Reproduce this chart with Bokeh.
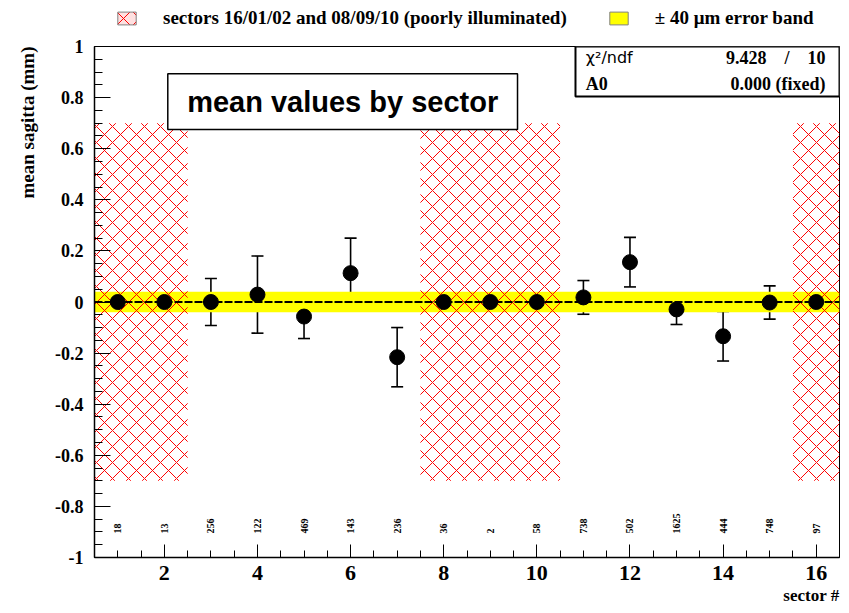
import math
from bokeh.plotting import figure
from bokeh.layouts import column
from bokeh.models import (ColumnDataSource, FixedTicker, Whisker, TeeHead, Span,
                          BoxAnnotation, Label, Legend, LegendItem, Title)
from bokeh.core.properties import value
from bokeh.embed import file_html
from bokeh.resources import INLINE

# ---------------- data ----------------
sectors = [1, 2, 3, 4, 5, 6, 7, 8, 9, 10, 11, 12, 13, 14, 15, 16]
mean_sagitta = [0.0, 0.0, 0.0, 0.029, -0.057, 0.113, -0.216, 0.0, 0.0, 0.0,
                0.018, 0.156, -0.029, -0.134, -0.002, 0.0]
mean_error = [0.0, 0.0, 0.092, 0.151, 0.086, 0.137, 0.116, 0.0, 0.0, 0.0,
              0.066, 0.097, 0.059, 0.097, 0.065, 0.0]
entries = ["18", "13", "256", "122", "469", "143", "236", "36", "2", "58",
           "738", "502", "1625", "444", "748", "97"]
poor_left = [0.5, 7.5, 15.5]
poor_right = [2.5, 10.5, 16.5]
poor_low = -0.7
poor_high = 0.7
band_half = 0.04          # 40 um = 0.04 mm
fit_a0 = 0.0
NB = "\u00a0"
chi2_text = "9.428" + NB * 4 + "/" + NB * 4 + "10"
a0_text = "0.000 (fixed)"
x_ticks = [2, 4, 6, 8, 10, 12, 14, 16]
y_ticks = [-1.0, -0.8, -0.6, -0.4, -0.2, 0.0, 0.2, 0.4, 0.6, 0.8, 1.0]
y_tick_labels = ["-1", "-0.8", "-0.6", "-0.4", "-0.2", "0", "0.2", "0.4", "0.6", "0.8", "1"]
legend_labels = ["sectors 16/01/02 and 08/09/10 (poorly illuminated)",
                 "\u00b1 40 \u03bcm error band"]

SERIF = "Liberation Serif"
SANS = "Liberation Sans"
INK = "black"
HATCH_RED = "#ff0000"
BAND_YELLOW = "#ffff00"

# ---------------- legend strip (above the frame) ----------------
top = figure(width=849, height=30, x_range=(0, 1), y_range=(0, 1),
             output_backend="svg", toolbar_location=None,
             x_axis_location=None, y_axis_location=None, min_border=0)
top.grid.visible = False
top.outline_line_color = None
top.background_fill_color = "white"
top.border_fill_color = "white"
# swatch renderers (outside the visible range; only their legend glyphs show)
sw_hatch = top.quad(left=[2], right=[3], bottom=[2], top=[3], fill_color=HATCH_RED,
                    fill_alpha=0.12, line_color="#808080", hatch_pattern="diagonal_cross",
                    hatch_color=HATCH_RED, hatch_scale=16, hatch_weight=1)
sw_band = top.quad(left=[2], right=[3], bottom=[2], top=[3], fill_color=BAND_YELLOW,
                   line_color="#808080")
legend = Legend(items=[LegendItem(label=legend_labels[0], renderers=[sw_hatch]),
                       LegendItem(label=legend_labels[1], renderers=[sw_band])],
                location=(21, 1), orientation="horizontal", glyph_width=23, glyph_height=16,
                label_standoff=25, spacing=40, padding=0, margin=0, label_height=22,
                border_line_color=None, background_fill_alpha=0,
                label_text_font=SERIF, label_text_font_style="bold",
                label_text_font_size="19px", label_text_color=INK)
top.add_layout(legend)

# ---------------- main plot ----------------
p = figure(width=849, height=583, x_range=(0.5, 16.5), y_range=(-1, 1),
           output_backend="svg", toolbar_location=None,
           min_border_left=94, min_border_right=10, min_border_top=16, min_border_bottom=56)
p.grid.visible = False
p.outline_line_color = "black"
p.outline_line_width = 1
p.background_fill_color = "white"
p.border_fill_color = "white"

xa = p.xaxis[0]
xa.ticker = FixedTicker(ticks=x_ticks, minor_ticks=[0.5 + 0.5 * i for i in range(33)])
xa.major_tick_in = 13
xa.major_tick_out = 0
xa.minor_tick_in = 7
xa.minor_tick_out = 0
xa.major_label_text_font = SERIF
xa.major_label_text_font_style = "bold"
xa.major_label_text_font_size = "22px"
xa.major_label_text_color = INK
xa.major_label_standoff = 8
xa.axis_line_width = 1.5
xa.axis_line_color = INK
xa.major_tick_line_color = INK
xa.minor_tick_line_color = INK

ya = p.yaxis[0]
ya.ticker = FixedTicker(ticks=y_ticks, minor_ticks=[round(-1 + 0.05 * i, 2) for i in range(41)])
ya.major_label_overrides = {t: s for t, s in zip(y_ticks, y_tick_labels)}
ya.major_tick_in = 16
ya.major_tick_out = 0
ya.minor_tick_in = 8
ya.minor_tick_out = 0
ya.major_label_text_font = SERIF
ya.major_label_text_font_style = "bold"
ya.major_label_text_font_size = "18px"
ya.major_label_text_color = INK
ya.major_label_standoff = 11
ya.axis_line_width = 1.5
ya.axis_line_color = INK
ya.major_tick_line_color = INK
ya.minor_tick_line_color = INK

p.add_layout(Title(text="mean sagitta (mm)", align="right", text_font=SERIF,
                   text_font_style="bold", text_font_size="19px", text_color=INK,
                   standoff=29), "left")
p.add_layout(Title(text="sector #", align="right", text_font=SERIF, text_color=INK,
                   text_font_style="bold", text_font_size="17px", standoff=2), "below")

# yellow error band
band = p.quad(left=[0.5], right=[16.5], bottom=[fit_a0 - band_half], top=[fit_a0 + band_half],
              fill_color=BAND_YELLOW, line_color=None)

# hatched poorly illuminated sectors
hatch = p.quad(left=poor_left, right=poor_right, bottom=poor_low, top=poor_high,
               fill_color=None, line_color=None, hatch_pattern="diagonal_cross",
               hatch_color=HATCH_RED, hatch_scale=16, hatch_weight=1)

# fit line
p.add_layout(Span(location=fit_a0, dimension="width", line_color="black",
                  line_width=2, line_dash="8 2"))

# error bars
err_x = [s for s, e in zip(sectors, mean_error) if e > 0]
err_lo = [m - e for m, e in zip(mean_sagitta, mean_error) if e > 0]
err_hi = [m + e for m, e in zip(mean_sagitta, mean_error) if e > 0]
esrc = ColumnDataSource(dict(x=err_x, lo=err_lo, hi=err_hi))
p.add_layout(Whisker(source=esrc, base="x", lower="lo", upper="hi", line_width=1.6,
                     line_color="black",
                     upper_head=TeeHead(size=12, line_width=1.6, line_color="black"),
                     lower_head=TeeHead(size=12, line_width=1.6, line_color="black")))

p.scatter(x=sectors, y=mean_sagitta, size=15, fill_color="black", line_color="black")

# entries per sector
p.text(x=sectors, y=[-0.906] * len(sectors), text=entries, angle=math.pi / 2,
       text_align="left", text_baseline="middle", text_font=value(SERIF),
       text_font_style="bold", text_font_size="10px", text_color="black")

# title box
p.add_layout(BoxAnnotation(left=2.074, right=9.585, bottom=0.675, top=0.893,
                           fill_color="white", fill_alpha=1.0, line_color="black",
                           line_alpha=1.0, line_width=1.5))
p.add_layout(Label(x=5.83, y=0.784, text="mean values by sector", text_align="center",
                   text_baseline="middle", text_font=SANS, text_font_style="bold",
                   text_font_size="29px", text_color=INK))

# stats box
p.add_layout(BoxAnnotation(left=10.83, right=16.5, bottom=0.804, top=1.0,
                           fill_color="white", fill_alpha=1.0, line_color="black",
                           line_alpha=1.0, line_width=2))
p.add_layout(Label(x=11.05, y=0.955, text="\u03c7\u00b2/ndf", text_align="left",
                   text_baseline="middle", text_font="DejaVu Sans", text_font_size="16px",
                   text_color=INK))
p.add_layout(Label(x=16.2, y=0.955, text=chi2_text, text_align="right",
                   text_baseline="middle", text_font=SERIF, text_font_style="bold",
                   text_font_size="18px", text_color=INK))
p.add_layout(Label(x=11.05, y=0.853, text="A0", text_align="left",
                   text_baseline="middle", text_font=SERIF, text_font_style="bold",
                   text_font_size="18px", text_color=INK))
p.add_layout(Label(x=16.2, y=0.853, text=a0_text, text_align="right",
                   text_baseline="middle", text_font=SERIF, text_font_style="bold",
                   text_font_size="18px", text_color=INK))

layout = column(top, p, spacing=0)
open("out.html", "w").write(file_html(layout, INLINE))
